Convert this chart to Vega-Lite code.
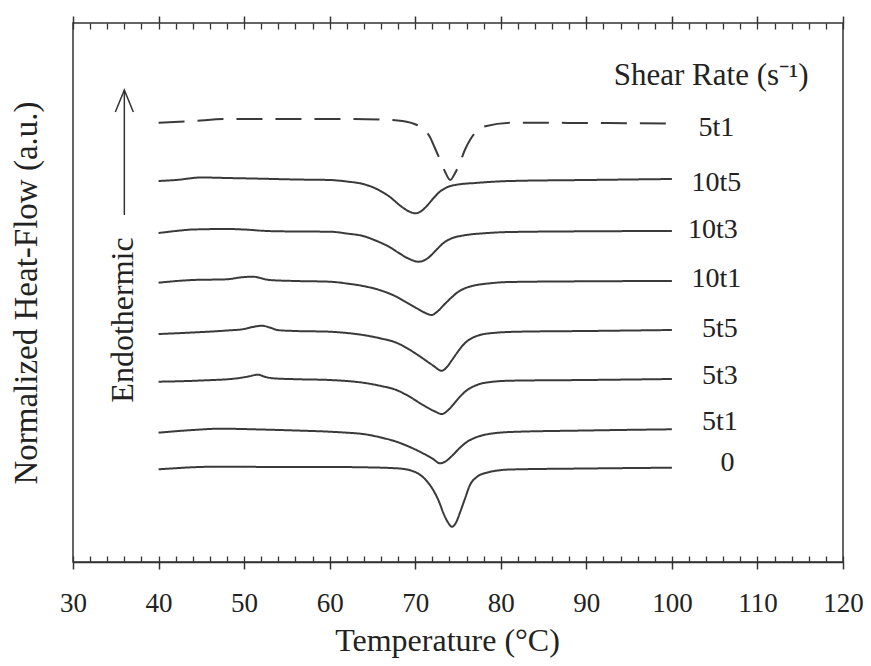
{
  "$schema": "https://vega.github.io/schema/vega-lite/v6.json",
  "width": 770,
  "height": 539,
  "autosize": "none",
  "padding": {"left": 73, "top": 23, "right": 28, "bottom": 104},
  "background": "white",
  "config": {
    "view": {"stroke": "#333", "strokeWidth": 1.5},
    "font": "Liberation Serif",
    "axis": {"domainColor": "#333", "tickColor": "#333", "labelColor": "#222", "titleColor": "#222", "grid": false, "labelFont": "Liberation Serif", "titleFont": "Liberation Serif", "titleFontWeight": "normal"},
    "text": {"font": "Liberation Serif", "color": "#222"}
  },
  "datasets": {
    "curves": [
      {"s":"5t1 (top)","T":40,"v":439.3},{"s":"5t1 (top)","T":44,"v":441},{"s":"5t1 (top)","T":48,"v":443},{"s":"5t1 (top)","T":55,"v":443},{"s":"5t1 (top)","T":62,"v":443},{"s":"5t1 (top)","T":66,"v":442.5},{"s":"5t1 (top)","T":68.5,"v":441},{"s":"5t1 (top)","T":70.2,"v":437},{"s":"5t1 (top)","T":71,"v":433},{"s":"5t1 (top)","T":71.7,"v":425.3},{"s":"5t1 (top)","T":72.3,"v":414},{"s":"5t1 (top)","T":72.9,"v":402},{"s":"5t1 (top)","T":73.5,"v":390},{"s":"5t1 (top)","T":74.1,"v":382},{"s":"5t1 (top)","T":74.6,"v":388},{"s":"5t1 (top)","T":75.2,"v":398.7},{"s":"5t1 (top)","T":75.8,"v":412},{"s":"5t1 (top)","T":76.4,"v":422},{"s":"5t1 (top)","T":77.2,"v":431},{"s":"5t1 (top)","T":78,"v":435.3},{"s":"5t1 (top)","T":81.4,"v":439.3},{"s":"5t1 (top)","T":90,"v":439},{"s":"5t1 (top)","T":100,"v":438.5},

      {"s":"10t5","T":40,"v":381},{"s":"10t5","T":42,"v":382},{"s":"10t5","T":45,"v":384.5},{"s":"10t5","T":48,"v":384},{"s":"10t5","T":52,"v":383.3},{"s":"10t5","T":56,"v":382.5},{"s":"10t5","T":60,"v":382},{"s":"10t5","T":62,"v":380.5},{"s":"10t5","T":63.9,"v":378},{"s":"10t5","T":65.5,"v":373},{"s":"10t5","T":67.05,"v":365},{"s":"10t5","T":68.3,"v":356},{"s":"10t5","T":69.3,"v":350.5},{"s":"10t5","T":70,"v":348.7},{"s":"10t5","T":70.6,"v":350.3},{"s":"10t5","T":71.3,"v":355.5},{"s":"10t5","T":72.1,"v":363.5},{"s":"10t5","T":72.9,"v":370.5},{"s":"10t5","T":73.8,"v":375},{"s":"10t5","T":75,"v":377.5},{"s":"10t5","T":77,"v":379},{"s":"10t5","T":81.1,"v":381},{"s":"10t5","T":90,"v":382},{"s":"10t5","T":100,"v":383},

      {"s":"10t3","T":40,"v":329},{"s":"10t3","T":42,"v":331},{"s":"10t3","T":44,"v":332.5},{"s":"10t3","T":48,"v":333},{"s":"10t3","T":50,"v":332.5},{"s":"10t3","T":52.7,"v":331},{"s":"10t3","T":56,"v":330.5},{"s":"10t3","T":60,"v":330.3},{"s":"10t3","T":62,"v":328.5},{"s":"10t3","T":63.9,"v":326},{"s":"10t3","T":65.5,"v":321},{"s":"10t3","T":67.05,"v":314.7},{"s":"10t3","T":68,"v":309.5},{"s":"10t3","T":69.2,"v":303.5},{"s":"10t3","T":70.4,"v":300.3},{"s":"10t3","T":71.5,"v":304},{"s":"10t3","T":72.4,"v":311.5},{"s":"10t3","T":73.3,"v":319},{"s":"10t3","T":74.3,"v":323.8},{"s":"10t3","T":75.6,"v":326.5},{"s":"10t3","T":78,"v":328.7},{"s":"10t3","T":81.1,"v":330},{"s":"10t3","T":90,"v":330.7},{"s":"10t3","T":100,"v":331},

      {"s":"10t1","T":40,"v":279.3},{"s":"10t1","T":44,"v":282},{"s":"10t1","T":48,"v":282.7},{"s":"10t1","T":49.5,"v":284.5},{"s":"10t1","T":51,"v":285.3},{"s":"10t1","T":53,"v":282},{"s":"10t1","T":56,"v":281},{"s":"10t1","T":60,"v":280.3},{"s":"10t1","T":62,"v":278.5},{"s":"10t1","T":63.9,"v":276},{"s":"10t1","T":66,"v":271.5},{"s":"10t1","T":67.8,"v":265.3},{"s":"10t1","T":69,"v":259.5},{"s":"10t1","T":70.2,"v":253.7},{"s":"10t1","T":71.2,"v":249},{"s":"10t1","T":71.9,"v":247},{"s":"10t1","T":72.6,"v":250.5},{"s":"10t1","T":73.4,"v":257.5},{"s":"10t1","T":74.3,"v":265},{"s":"10t1","T":75,"v":270},{"s":"10t1","T":75.8,"v":273.7},{"s":"10t1","T":76.8,"v":276.3},{"s":"10t1","T":78.5,"v":278.5},{"s":"10t1","T":81.1,"v":280},{"s":"10t1","T":90,"v":280.7},{"s":"10t1","T":100,"v":281},

      {"s":"5t5","T":40,"v":228},{"s":"5t5","T":44,"v":229.5},{"s":"5t5","T":48,"v":231.5},{"s":"5t5","T":50,"v":233},{"s":"5t5","T":51,"v":235},{"s":"5t5","T":52.1,"v":236.3},{"s":"5t5","T":53,"v":234.5},{"s":"5t5","T":54,"v":231.8},{"s":"5t5","T":56,"v":231},{"s":"5t5","T":60,"v":230.3},{"s":"5t5","T":62,"v":229},{"s":"5t5","T":63.9,"v":227},{"s":"5t5","T":66,"v":223.5},{"s":"5t5","T":67.8,"v":219.3},{"s":"5t5","T":69.3,"v":212.5},{"s":"5t5","T":70.6,"v":205.3},{"s":"5t5","T":72,"v":197},{"s":"5t5","T":73.1,"v":191.3},{"s":"5t5","T":73.7,"v":195},{"s":"5t5","T":74.3,"v":202},{"s":"5t5","T":75,"v":210.5},{"s":"5t5","T":75.6,"v":217},{"s":"5t5","T":76.2,"v":221.7},{"s":"5t5","T":76.9,"v":225},{"s":"5t5","T":77.8,"v":227.5},{"s":"5t5","T":79.5,"v":229.3},{"s":"5t5","T":82,"v":230.3},{"s":"5t5","T":90,"v":231},{"s":"5t5","T":100,"v":232},

      {"s":"5t3","T":40,"v":180.3},{"s":"5t3","T":45,"v":181.5},{"s":"5t3","T":49.2,"v":183.7},{"s":"5t3","T":50.5,"v":185.5},{"s":"5t3","T":51.6,"v":187.3},{"s":"5t3","T":52.5,"v":185},{"s":"5t3","T":53.4,"v":183.7},{"s":"5t3","T":56,"v":182.8},{"s":"5t3","T":60,"v":182},{"s":"5t3","T":62,"v":181},{"s":"5t3","T":63.9,"v":179.3},{"s":"5t3","T":66,"v":176},{"s":"5t3","T":67.8,"v":172},{"s":"5t3","T":69.5,"v":164.5},{"s":"5t3","T":70.9,"v":157},{"s":"5t3","T":72.2,"v":151},{"s":"5t3","T":73.1,"v":148},{"s":"5t3","T":73.8,"v":151.5},{"s":"5t3","T":74.4,"v":157},{"s":"5t3","T":75.2,"v":165},{"s":"5t3","T":76,"v":171.5},{"s":"5t3","T":77,"v":176.3},{"s":"5t3","T":78,"v":179},{"s":"5t3","T":81.1,"v":181.3},{"s":"5t3","T":90,"v":182},{"s":"5t3","T":100,"v":183},

      {"s":"5t1","T":40,"v":129.3},{"s":"5t1","T":44,"v":132},{"s":"5t1","T":47.2,"v":133.3},{"s":"5t1","T":52,"v":132.5},{"s":"5t1","T":56,"v":131.5},{"s":"5t1","T":60,"v":130.3},{"s":"5t1","T":62,"v":129.3},{"s":"5t1","T":63.9,"v":128},{"s":"5t1","T":66,"v":124.5},{"s":"5t1","T":67.8,"v":120.3},{"s":"5t1","T":69.5,"v":114.5},{"s":"5t1","T":70.9,"v":108.7},{"s":"5t1","T":72,"v":103.5},{"s":"5t1","T":72.9,"v":98.7},{"s":"5t1","T":73.7,"v":101.5},{"s":"5t1","T":74.4,"v":107},{"s":"5t1","T":75.2,"v":114},{"s":"5t1","T":76,"v":119.8},{"s":"5t1","T":77,"v":124.3},{"s":"5t1","T":78,"v":127},{"s":"5t1","T":81.1,"v":130},{"s":"5t1","T":90,"v":131.5},{"s":"5t1","T":100,"v":132.7},

      {"s":"0","T":40,"v":92.7},{"s":"0","T":46.8,"v":95.3},{"s":"0","T":55,"v":95},{"s":"0","T":60,"v":95},{"s":"0","T":64,"v":94.7},{"s":"0","T":67.8,"v":93.7},{"s":"0","T":69.5,"v":91.5},{"s":"0","T":70.6,"v":87},{"s":"0","T":71.4,"v":80.5},{"s":"0","T":72.1,"v":72},{"s":"0","T":72.8,"v":60},{"s":"0","T":73.3,"v":48.7},{"s":"0","T":73.8,"v":40},{"s":"0","T":74.3,"v":35.3},{"s":"0","T":74.8,"v":40},{"s":"0","T":75.2,"v":48.7},{"s":"0","T":75.8,"v":63},{"s":"0","T":76.4,"v":77},{"s":"0","T":77.2,"v":85},{"s":"0","T":78,"v":88.5},{"s":"0","T":81.1,"v":92.5},{"s":"0","T":90,"v":93.5},{"s":"0","T":100,"v":94.3}
    ],
    "labels": [
      {"label":"5t1","T":105.2,"v":434},
      {"label":"10t5","T":105.2,"v":379},
      {"label":"10t3","T":104.8,"v":332},
      {"label":"10t1","T":105.2,"v":283},
      {"label":"5t5","T":105.6,"v":233},
      {"label":"5t3","T":105.6,"v":186},
      {"label":"5t1","T":105.6,"v":140},
      {"label":"0","T":106.5,"v":99}
    ],
    "arrow": [
      {"part":"shaft","o":1,"T":36,"v":347},
      {"part":"shaft","o":2,"T":36,"v":472},
      {"part":"head","o":1,"T":34.95,"v":450},
      {"part":"head","o":2,"T":36,"v":472},
      {"part":"head","o":3,"T":37.05,"v":450}
    ],
    "notes": [
      {"text":"Endothermic","kind":"endo","T":35.8,"v":242},
      {"text":"Shear Rate (s⁻¹)","kind":"header","T":104.6,"v":486}
    ]
  },
  "resolve": {"axis": {"x": "independent", "y": "independent"}},
  "layer": [
    {
      "data": {"name": "curves"},
      "mark": {"type": "line", "interpolate": "monotone", "strokeWidth": 2, "color": "#3a3a3a"},
      "encoding": {
        "x": {"field": "T", "type": "quantitative",
              "scale": {"domain": [30, 120], "nice": false, "zero": false},
              "axis": {"orient": "bottom", "values": [30,40,50,60,70,80,90,100,110,120], "tickSize": 7, "tickWidth": 1.5, "domainWidth": 1.5, "labelFont": "Liberation Serif", "labelFontSize": 27, "labelPadding": 21, "labelFlush": false, "labelOverlap": false, "title": "Temperature (°C)", "titleFont": "Liberation Serif", "titleFontSize": 32, "titlePadding": 9, "titleX": 374}},
        "y": {"field": "v", "type": "quantitative",
              "scale": {"domain": [0, 539], "nice": false, "zero": false},
              "axis": {"title": "Normalized Heat-Flow (a.u.)", "titleFont": "Liberation Serif", "titleFontSize": 33, "labels": false, "ticks": false, "domain": false, "titlePadding": 30}},
        "detail": {"field": "s"},
        "strokeDash": {"field": "s", "type": "nominal", "legend": null,
                       "scale": {"domain": ["5t1 (top)","10t5","10t3","10t1","5t5","5t3","5t1","0"],
                                 "range": [[26,13],[1,0],[1,0],[1,0],[1,0],[1,0],[1,0],[1,0]]}}
      }
    },
    {
      "data": {"name": "labels"},
      "mark": {"type": "text", "font": "Liberation Serif", "fontSize": 28, "align": "center", "baseline": "middle", "color": "#222"},
      "encoding": {
        "x": {"field": "T", "type": "quantitative",
              "scale": {"domain": [30, 120], "nice": false, "zero": false},
              "axis": {"orient": "bottom", "values": [30,32,34,36,38,40,42,44,46,48,50,52,54,56,58,60,62,64,66,68,70,72,74,76,78,80,82,84,86,88,90,92,94,96,98,100,102,104,106,108,110,112,114,116,118,120], "tickSize": -6, "tickWidth": 1.3, "labels": false, "domain": false, "title": null}},
        "y": {"field": "v", "type": "quantitative", "scale": {"domain": [0, 539], "nice": false, "zero": false}, "axis": null},
        "text": {"field": "label"}
      }
    },
    {
      "data": {"name": "arrow"},
      "mark": {"type": "line", "strokeWidth": 1.5, "color": "#333"},
      "encoding": {
        "x": {"field": "T", "type": "quantitative",
              "scale": {"domain": [30, 120], "nice": false, "zero": false},
              "axis": {"orient": "top", "values": [30,40,50,60,70,80,90,100,110,120], "tickSize": 7, "tickWidth": 1.5, "labels": false, "domain": false, "title": null}},
        "y": {"field": "v", "type": "quantitative", "scale": {"domain": [0, 539], "nice": false, "zero": false}, "axis": null},
        "detail": {"field": "part"},
        "order": {"field": "o"}
      }
    },
    {
      "data": {"name": "notes"},
      "transform": [{"filter": "datum.kind === 'endo'"}],
      "mark": {"type": "text", "font": "Liberation Serif", "fontSize": 32, "angle": 270, "align": "center", "baseline": "middle", "color": "#222"},
      "encoding": {
        "x": {"field": "T", "type": "quantitative",
              "scale": {"domain": [30, 120], "nice": false, "zero": false},
              "axis": {"orient": "top", "values": [30,32,34,36,38,40,42,44,46,48,50,52,54,56,58,60,62,64,66,68,70,72,74,76,78,80,82,84,86,88,90,92,94,96,98,100,102,104,106,108,110,112,114,116,118,120], "tickSize": -6, "tickWidth": 1.3, "labels": false, "domain": false, "title": null}},
        "y": {"field": "v", "type": "quantitative", "scale": {"domain": [0, 539], "nice": false, "zero": false}, "axis": null},
        "text": {"field": "text"}
      }
    },
    {
      "data": {"name": "notes"},
      "transform": [{"filter": "datum.kind === 'header'"}],
      "mark": {"type": "text", "font": "Liberation Serif", "fontSize": 31, "align": "center", "baseline": "middle", "color": "#222"},
      "encoding": {
        "x": {"field": "T", "type": "quantitative", "scale": {"domain": [30, 120], "nice": false, "zero": false}, "axis": null},
        "y": {"field": "v", "type": "quantitative", "scale": {"domain": [0, 539], "nice": false, "zero": false}, "axis": null},
        "text": {"field": "text"}
      }
    }
  ]
}
